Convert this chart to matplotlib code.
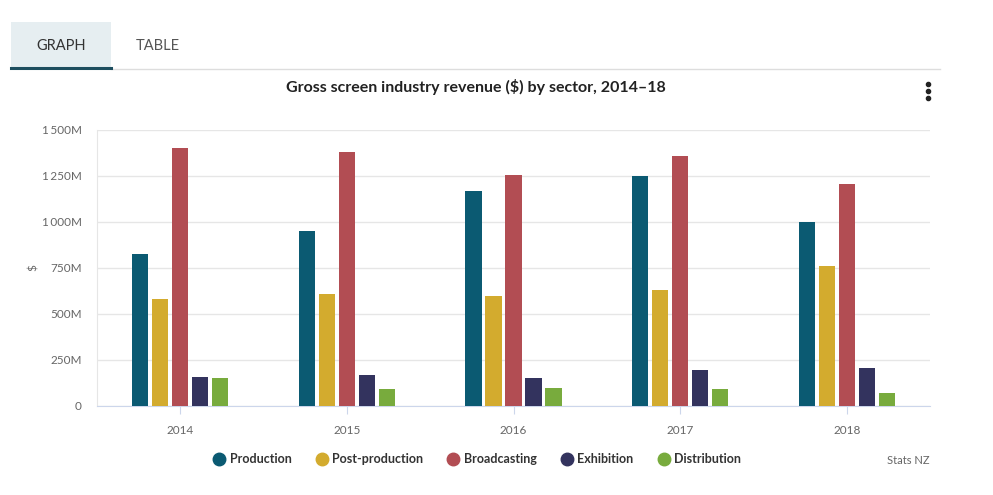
import matplotlib.pyplot as plt
import numpy as np
from matplotlib.lines import Line2D
from matplotlib.patches import Rectangle

plt.rcParams['font.family'] = ['Lato', 'DejaVu Sans']

years = ['2014', '2015', '2016', '2017', '2018']
sectors = ['Production', 'Post-production', 'Broadcasting', 'Exhibition', 'Distribution']
colors = ['#0b5a72', '#d3ab2e', '#b24d53', '#33335e', '#78ab3d']

# revenue in $ millions
production = [826, 953, 1170, 1250, 1000]
post_production = [581, 607, 600, 633, 763]
broadcasting = [1402, 1383, 1257, 1361, 1208]
exhibition = [160, 171, 154, 194, 204]
distribution = [150, 95, 100, 90, 73]
series = [production, post_production, broadcasting, exhibition, distribution]

yticks = [0, 250, 500, 750, 1000, 1250, 1500]
ytick_labels = ['0', '250M', '500M', '750M', '1\u2009000M', '1\u2009250M', '1\u2009500M']

fig = plt.figure(figsize=(9.93, 4.95), dpi=100)

# tabs at the top
fig.patches.append(Rectangle((11/993, 1-68/495), 100/993, 46/495, transform=fig.transFigure,
                             facecolor='#e6eef1', edgecolor='none'))
fig.add_artist(Line2D([111/993, 940/993], [1-69/495]*2, color='#dddddd', lw=1))
fig.add_artist(Line2D([11/993, 111/993], [1-67.5/495]*2, color='#1d4e5f', lw=2.2))
fig.text(61/993, 1-46/495, 'GRAPH', ha='center', va='center', fontsize=10.5, color='#333333')
fig.text(158/993, 1-46/495, 'TABLE', ha='center', va='center', fontsize=10.5, color='#555555')

fig.text(476/993, 1-87/495, 'Gross screen industry revenue ($) by sector, 2014\u201318',
         ha='center', va='center', fontsize=11.5, fontweight='bold', color='#222222')
for dy in (84, 91, 98):
    fig.add_artist(Line2D([928/993], [1-dy/495], marker='o', ms=3, color='#222222', lw=0))

ax = fig.add_axes([97/993, 1-406/495, 833/993, 276/495])
x = np.arange(len(years))
pitch = 0.12
width = 0.097
for i, (vals, c) in enumerate(zip(series, colors)):
    ax.bar(x + (i - 2) * pitch, vals, width, color=c, label=sectors[i], zorder=3)

ax.set_xlim(-0.5, 4.5)
ax.set_ylim(0, 1500)
ax.set_yticks(yticks)
ax.set_yticklabels(ytick_labels)
ax.set_xticks(x)
ax.set_xticklabels(years)
ax.grid(axis='y', color='#e6e6e6', lw=1, zorder=0)
for s in ['top', 'right']:
    ax.spines[s].set_visible(False)
ax.spines['left'].set_color('#e6e6e6')
ax.spines['bottom'].set_color('#ccd6eb')
ax.tick_params(axis='y', length=0, labelsize=8.5, labelcolor='#666666', pad=11)
ax.tick_params(axis='x', length=6, color='#ccd6eb', labelsize=8.5, labelcolor='#666666', pad=8)
ax.set_ylabel('$', fontsize=8.5, color='#666666')
ax.yaxis.set_label_coords(-0.07, 0.5)

handles = [Line2D([], [], marker='o', ls='', ms=9, color=c) for c in colors]
leg = fig.legend(handles, sectors, loc='center', bbox_to_anchor=(477/993, 1-459/495), ncol=5,
                 frameon=False, handletextpad=0.35, columnspacing=1.9, handlelength=1.0,
                 prop={'weight': 'bold', 'size': 9})
for t in leg.get_texts():
    t.set_color('#333333')
fig.text(930/993, 1-461/495, 'Stats NZ', ha='right', va='center', fontsize=8, color='#666666')

fig.savefig('out.png', dpi=100)
